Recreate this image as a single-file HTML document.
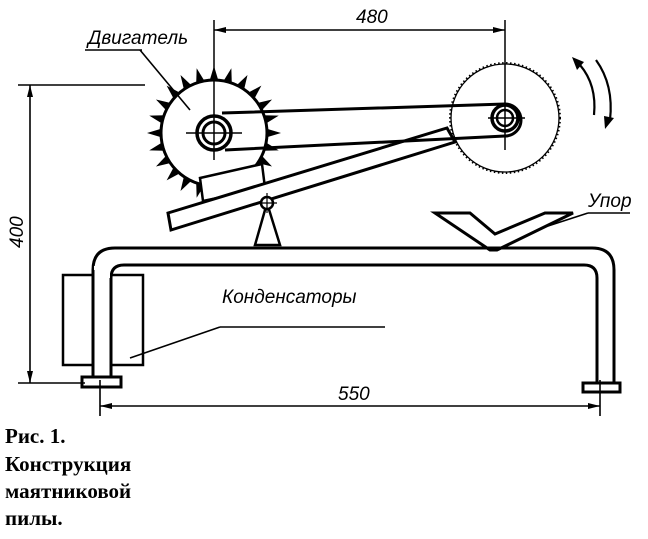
<!DOCTYPE html>
<html><head><style>
html,body{margin:0;padding:0;background:#fff;}
svg{display:block;}
.t{font-family:"Liberation Sans",sans-serif;font-style:italic;font-size:19px;fill:#000;}
.c{font-family:"Liberation Serif",serif;font-weight:bold;font-size:21px;fill:#000;}
</style></head><body>
<svg width="648" height="539" viewBox="0 0 648 539" xmlns="http://www.w3.org/2000/svg">
<g fill="none" stroke="#000" stroke-width="2">
<g transform="translate(214,133)" fill="#000" stroke="none">
<g id="tooth"><polygon points="-4.5,-52 4.5,-52 0,-67"/></g>
<use href="#tooth" transform="rotate(15)"/><use href="#tooth" transform="rotate(30)"/><use href="#tooth" transform="rotate(45)"/><use href="#tooth" transform="rotate(60)"/><use href="#tooth" transform="rotate(75)"/><use href="#tooth" transform="rotate(90)"/><use href="#tooth" transform="rotate(105)"/><use href="#tooth" transform="rotate(120)"/><use href="#tooth" transform="rotate(135)"/><use href="#tooth" transform="rotate(150)"/><use href="#tooth" transform="rotate(165)"/><use href="#tooth" transform="rotate(180)"/><use href="#tooth" transform="rotate(195)"/><use href="#tooth" transform="rotate(210)"/><use href="#tooth" transform="rotate(225)"/><use href="#tooth" transform="rotate(240)"/><use href="#tooth" transform="rotate(255)"/><use href="#tooth" transform="rotate(270)"/><use href="#tooth" transform="rotate(285)"/><use href="#tooth" transform="rotate(300)"/><use href="#tooth" transform="rotate(315)"/><use href="#tooth" transform="rotate(330)"/><use href="#tooth" transform="rotate(345)"/>
</g>
<circle cx="214" cy="133" r="53" fill="#fff" stroke-width="3"/>
<circle cx="505" cy="118" r="55" stroke-width="2" stroke-dasharray="1.5 2.5"/>
<circle cx="505" cy="118" r="54" stroke-width="1.3"/>
<polygon points="200,178 262,164 265,188 203,201" fill="#fff" stroke-width="2.5"/>
<polygon points="168,213 447,128 455,142 171,230" fill="#fff" stroke-width="3"/>
<path d="M222,113 L505,104 A16,16 0 0 1 505,136 L225,150" fill="none" stroke-width="3"/>
<circle cx="214" cy="133" r="17" stroke-width="3.5" fill="#fff"/>
<circle cx="214" cy="133" r="11" stroke-width="3"/>
<circle cx="505" cy="118" r="13" stroke-width="3.5" fill="#fff"/>
<circle cx="505" cy="118" r="8" stroke-width="2.5"/>
<g stroke-width="1.5">
<line x1="186" y1="133" x2="242" y2="133"/><line x1="214" y1="20" x2="214" y2="160"/>
<line x1="488" y1="118" x2="525" y2="118"/><line x1="505" y1="20" x2="505" y2="150"/>
</g>
<polygon points="267,203 255,245 280,245" fill="#fff" stroke-width="2.5"/>
<circle cx="267" cy="203" r="6" fill="#fff" stroke-width="2.5"/>
<line x1="257" y1="203" x2="277" y2="203" stroke-width="1.2"/><line x1="267" y1="193" x2="267" y2="213" stroke-width="1.2"/>
<polygon points="435,213 470,213 495,234 545,213 573,213 497,250 490,250" fill="#fff" stroke-width="3"/>
<rect x="63" y="275" width="80" height="90" fill="#fff" stroke-width="2.5"/>
<path d="M93,383 L93,270 Q93,248 115,248 L592,248 Q614,248 614,270 L614,385" stroke-width="3" fill="none"/>
<path d="M111,378 L111,278 Q111,265 124,265 L584,265 Q597,265 597,278 L597,385" stroke-width="3" fill="none"/>
<rect x="94" y="266" width="16" height="112" fill="#fff" stroke="none"/>
<line x1="93" y1="270" x2="93" y2="378" stroke-width="3"/><line x1="111" y1="278" x2="111" y2="378" stroke-width="3"/>
<rect x="82" y="377" width="39" height="10" fill="#fff" stroke-width="3"/>
<rect x="583" y="383" width="37" height="9" fill="#fff" stroke-width="3"/>
<g stroke-width="1.6">
<line x1="214" y1="30" x2="505" y2="30"/>
<line x1="100" y1="380" x2="100" y2="416"/><line x1="600" y1="380" x2="600" y2="416"/>
<line x1="100" y1="406" x2="600" y2="406"/>
<line x1="18" y1="85" x2="145" y2="85"/><line x1="18" y1="383" x2="85" y2="383"/>
<line x1="30" y1="85" x2="30" y2="383"/>
<line x1="140" y1="50" x2="190" y2="110"/>
<line x1="85" y1="50" x2="142" y2="50"/>
<line x1="588" y1="213" x2="548" y2="226"/><line x1="588" y1="213" x2="630" y2="213"/>
<line x1="220" y1="327" x2="385" y2="327"/><line x1="220" y1="327" x2="130" y2="358"/>
</g>
<g fill="#000" stroke="none">
<polygon points="214,30 226,27 226,33"/><polygon points="505,30 493,27 493,33"/>
<polygon points="100,406 112,403 112,409"/><polygon points="600,406 588,403 588,409"/>
<polygon points="30,85 27,97 33,97"/><polygon points="30,383 27,371 33,371"/>
</g>
<path d="M580,65 Q597,85 594,115" stroke-width="2.2"/>
<polygon points="572,57 584,62 577,70" fill="#000" stroke="none"/>
<path d="M596,60 Q614,85 610,120" stroke-width="2.2"/>
<polygon points="605,129 604,116 614,118" fill="#000" stroke="none"/>
</g>
<text class="t" x="356" y="23">480</text>
<text class="t" x="88" y="44">Двигатель</text>
<text class="t" x="588" y="207">Упор</text>
<text class="t" x="222" y="303">Конденсаторы</text>
<text class="t" x="338" y="400">550</text>
<text class="t" transform="translate(23,248) rotate(-90)">400</text>
<text class="c" x="5" y="443">Рис. 1.</text>
<text class="c" x="5" y="471">Конструкция</text>
<text class="c" x="5" y="498">маятниковой</text>
<text class="c" x="5" y="525">пилы.</text>
</svg>
</body></html>
